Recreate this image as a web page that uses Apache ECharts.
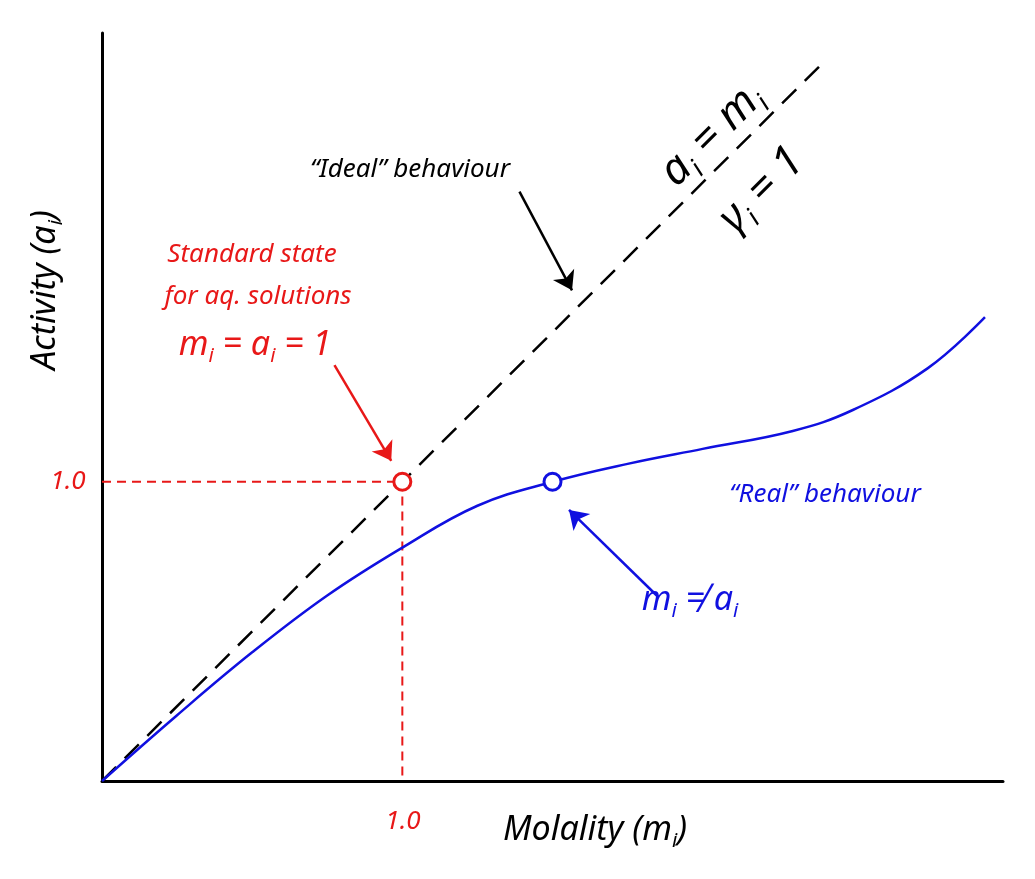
<!DOCTYPE html>
<html>
<head>
<meta charset="utf-8">
<script src="https://cdn.jsdelivr.net/npm/echarts@6/dist/echarts.min.js"></script>
<style>html,body{margin:0;background:#fff}#chart{width:1035px;height:879px}</style>
</head>
<body>
<div id="chart"></div>
<script>
// ideal line a = m
var idealLine = [[0, 0], [2.4, 2.4]];
// real behaviour curve
var realCurve = [[0, 0], [0.25, 0.22], [0.5, 0.43], [0.75, 0.62], [1, 0.78], [1.25, 0.92], [1.5, 1.0],
    [1.75, 1.06], [2, 1.11], [2.3, 1.17], [2.5, 1.24], [2.75, 1.38], [2.94, 1.55]];
var stdPoint = [[1, 1]];
var realPoint = [[1.5, 1]];

var myChart = echarts.init(document.getElementById('chart'));
var font = '"Noto Sans", sans-serif';
function txt(x, y, rich, text, color, size, rot) {
    return {
        type: 'text', x: x, y: y, rotation: rot || 0,
        style: {
            text: text, fill: color, font: 'italic ' + size + 'px ' + font,
            align: 'center', verticalAlign: 'middle', rich: rich
        }
    };
}
function sub(color, size) {
    return { s: { fill: color, fontStyle: 'italic', fontSize: size * 0.6, verticalAlign: 'bottom', padding: [0, 0, -size * 0.12, 0], fontFamily: font } };
}
function arrow(from, to, color) {
    return [{ coord: from, lineStyle: { color: color, width: 2.5, type: 'solid' } }, { coord: to }];
}
var option = {
    animation: false,
    grid: { left: 102, top: 33, right: 32, bottom: 98 },
    xAxis: { type: 'value', min: 0, max: 3, axisLine: { lineStyle: { color: '#000', width: 3 } },
        axisTick: { show: false }, axisLabel: { show: false }, splitLine: { show: false } },
    yAxis: { type: 'value', min: 0, max: 2.5, axisLine: { show: true, lineStyle: { color: '#000', width: 3 } },
        axisTick: { show: false }, axisLabel: { show: false }, splitLine: { show: false } },
    series: [
        { type: 'line', data: idealLine, symbol: 'none', lineStyle: { color: '#000', width: 2.5, type: [20, 12] },
          markLine: { symbol: ['none', 'arrow'], symbolSize: 18, silent: true, label: { show: false },
            data: [arrow([1.39, 1.97], [1.565, 1.64], '#000'), arrow([0.774, 1.39], [0.963, 1.07], '#e81818'),
                   arrow([1.847, 0.62], [1.555, 0.906], '#1010e0')] } },
        { type: 'line', data: realCurve, smooth: 0.4, symbol: 'none', lineStyle: { color: '#1010e0', width: 2.5 } },
        { type: 'line', data: [[0, 1], [1, 1], [1, 0]], symbol: 'none', z: 1,
          lineStyle: { color: '#e81818', width: 2, type: [9, 6] } },
        { type: 'scatter', data: stdPoint, symbol: 'circle', symbolSize: 17, z: 5,
          itemStyle: { color: '#ffffff', opacity: 1, borderColor: '#e81818', borderWidth: 3 } },
        { type: 'scatter', data: realPoint, symbol: 'circle', symbolSize: 17, z: 5,
          itemStyle: { color: '#ffffff', opacity: 1, borderColor: '#1010e0', borderWidth: 3 } }
    ],
    graphic: [
        txt(410, 170, null, '“Ideal” behaviour', '#000', 26),
        txt(252, 255, null, 'Standard state', '#e81818', 26),
        txt(258, 297, null, 'for aq. solutions', '#e81818', 26),
        txt(255, 345, sub('#e81818', 34), 'm{s|i} = a{s|i} = 1', '#e81818', 34),
        txt(712, 135, sub('#000', 44), 'a{s|i} = m{s|i}', '#000', 44, Math.PI / 4),
        txt(762, 190, sub('#000', 44), 'γ{s|i} = 1', '#000', 44, Math.PI / 4),
        txt(825, 495, null, '“Real” behaviour', '#1010e0', 26),
        txt(690, 600, sub('#1010e0', 34), 'm{s|i} ≠ a{s|i}', '#1010e0', 34),
        txt(45, 290, sub('#000', 34), 'Activity (a{s|i})', '#000', 34, Math.PI / 2),
        txt(595, 830, sub('#000', 34), 'Molality (m{s|i})', '#000', 34),
        txt(68, 482, null, '1.0', '#e81818', 26),
        txt(403, 822, null, '1.0', '#e81818', 26)
    ]
};
myChart.setOption(option);
</script>
</body>
</html>
